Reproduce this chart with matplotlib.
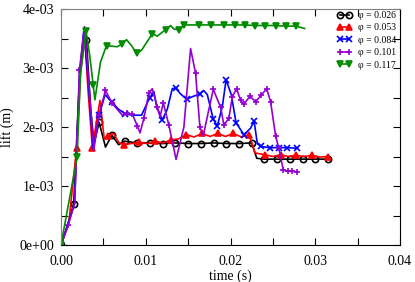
import numpy as np
import matplotlib
matplotlib.use("Agg")
import matplotlib.pyplot as plt

plt.rcParams['font.family'] = ['Liberation Serif', 'DejaVu Serif']

# 揚力の時系列 (値は 1e-3 m 単位)
labels = ['φ = 0.026', 'φ = 0.053', 'φ = 0.084', 'φ = 0.101', 'φ = 0.117']

t_026 = [0, 0.00075, 0.0015, 0.0022, 0.0027, 0.003, 0.0035, 0.0039, 0.0045, 0.00525,
         0.006, 0.0068, 0.0075, 0.009, 0.0105, 0.012, 0.0135, 0.015, 0.0165, 0.018,
         0.0195, 0.021, 0.0225, 0.0231, 0.024, 0.0255, 0.027, 0.0285, 0.030, 0.0315]
v_026 = [0, 0.33, 0.70, 2.85, 3.58, 3.48, 2.3, 1.72, 2.08, 1.66,
         1.86, 1.70, 1.76, 1.73, 1.73, 1.72, 1.73, 1.72, 1.72, 1.73,
         1.72, 1.72, 1.73, 1.47, 1.455, 1.455, 1.455, 1.455, 1.455, 1.455]
mk_026 = [0, 2, 5, 8, 10, 12, 13, 14, 15, 16, 17, 18, 19, 20, 21, 22, 24, 25, 26, 27, 28, 29]

t_053 = [0, 0.0009, 0.00185, 0.0023, 0.0028, 0.0032, 0.0037, 0.0042, 0.0046, 0.0051,
         0.00555, 0.0062, 0.0068, 0.0074, 0.0083, 0.00925, 0.0102, 0.0111, 0.012, 0.01295,
         0.0139, 0.0148, 0.0157, 0.01665, 0.0176, 0.0185, 0.0194, 0.02035, 0.0213, 0.0222,
         0.0229, 0.02405, 0.025, 0.0259, 0.0268, 0.02775, 0.0287, 0.0296, 0.0305, 0.03145]
v_053 = [0, 0.35, 1.65, 2.9, 3.55, 2.6, 1.65, 2.1, 2.45, 1.80,
         1.85, 1.89, 1.74, 1.70, 1.72, 1.74, 1.72, 1.76, 1.73, 1.78,
         1.80, 1.87, 1.83, 1.89, 1.84, 1.89, 1.84, 1.89, 1.83, 1.87,
         1.56, 1.53, 1.50, 1.53, 1.50, 1.52, 1.50, 1.52, 1.49, 1.50]
mk_053 = [0, 2, 6, 10, 13, 15, 17, 19, 21, 23, 25, 27, 29, 31, 33, 35, 37, 39]

t_084 = [0, 0.0008, 0.0016, 0.0022, 0.0027, 0.0032, 0.0038, 0.0045, 0.0052, 0.006,
         0.0068, 0.0076, 0.0085, 0.0095, 0.01048, 0.01096, 0.01128, 0.01195, 0.01254, 0.01313,
         0.01352, 0.01411, 0.01482, 0.01561, 0.01639, 0.01682, 0.01726, 0.01797, 0.01844, 0.01903,
         0.01948, 0.02009, 0.02066, 0.02158, 0.02237, 0.02279, 0.02316, 0.02355, 0.02465, 0.02571,
         0.02671, 0.0278]
v_084 = [0, 0.34, 0.70, 2.9, 3.65, 2.8, 1.62, 2.2, 2.55, 2.42,
         2.3, 2.22, 2.2, 2.2, 2.50, 2.60, 2.35, 2.12, 2.30, 2.65,
         2.66, 2.56, 2.47, 2.52, 2.56, 2.62, 2.55, 2.13, 2.02, 2.34,
         2.80, 2.55, 2.07, 1.87, 1.98, 2.10, 1.72, 1.67, 1.65, 1.65,
         1.65, 1.64]
mk_084 = [0, 7, 9, 11, 14, 17, 20, 22, 24, 27, 28, 30, 32, 33, 35, 37, 38, 39, 40, 41]

t_101 = [0, 0.00085, 0.0016, 0.00218, 0.00277, 0.00325, 0.00387, 0.00446, 0.00525, 0.00604,
         0.00723, 0.00782, 0.00841, 0.009, 0.00933, 0.00978, 0.01037, 0.01077, 0.01136, 0.01169,
         0.01207, 0.01273, 0.01358, 0.0145, 0.01529, 0.01588, 0.01639, 0.01679, 0.0173, 0.01797,
         0.01844, 0.01883, 0.01922, 0.01981, 0.02021, 0.02072, 0.02119, 0.02158, 0.02229, 0.02296,
         0.02364, 0.02426, 0.02473, 0.02532, 0.02571, 0.02623, 0.02678, 0.0273, 0.0278]
v_101 = [0, 0.34, 0.70, 2.97, 3.70, 2.8, 1.61, 2.2, 2.62, 2.40,
         2.20, 2.23, 2.22, 2.02, 1.90, 2.15, 2.57, 2.65, 2.34, 2.17,
         2.41, 2.03, 1.45, 2.0, 3.33, 2.91, 2.0, 1.85, 2.2, 2.64,
         2.47, 2.34, 2.03, 2.15, 2.51, 2.65, 2.45, 2.39, 2.52, 2.43,
         2.54, 2.65, 2.43, 1.85, 1.64, 1.27, 1.25, 1.25, 1.24]
mk_101 = [0, 1, 3, 7, 8, 9, 11, 12, 13, 15, 16, 18, 20, 21, 25, 26, 29, 31, 32, 33,
          34, 35, 36, 37, 38, 39, 40, 41, 42, 43, 44, 45, 46, 47, 48]

t_117 = [0, 0.0019, 0.00230, 0.00295, 0.0034, 0.0038, 0.004, 0.00466, 0.00537, 0.00664,
         0.00723, 0.00773, 0.00832, 0.00891, 0.0095, 0.01077, 0.01136, 0.01234, 0.01293, 0.01332,
         0.01391, 0.0145, 0.01627, 0.01773, 0.01922, 0.02048, 0.02166, 0.02288, 0.02406, 0.02532,
         0.02651, 0.02769, 0.02875]
v_117 = [0, 1.49, 2.9, 3.63, 3.2, 2.71, 2.46, 3.1, 3.38, 3.36,
         3.41, 3.48, 3.38, 3.25, 3.30, 3.58, 3.54, 3.65, 3.72, 3.66,
         3.65, 3.73, 3.73, 3.73, 3.73, 3.73, 3.73, 3.72, 3.72, 3.72,
         3.71, 3.71, 3.67]
mk_117 = [0, 1, 3, 5, 8, 10, 13, 15, 17, 20, 21, 22, 23, 24, 25, 26, 27, 28, 29, 30, 31]

fig = plt.figure(figsize=(4.15, 2.82), dpi=100)
ax = fig.add_axes([61/415, 37/282, 339/415, 236/282])

series = [
    (t_026, v_026, mk_026, 'black', 'o', 'none', 4.5),
    (t_053, v_053, mk_053, '#ff0000', '^', '#ff0000', 5),
    (t_084, v_084, mk_084, '#0000ff', 'x', '#0000ff', 4),
    (t_101, v_101, mk_101, '#9400d3', '+', '#9400d3', 5),
    (t_117, v_117, mk_117, '#008b00', 'v', '#008b00', 5),
]

for (t, v, mk, c, m, fc, ms), lab in zip(series, labels):
    ax.plot(t, np.array(v) * 1e-3, color=c, lw=1.2, marker=m, markevery=mk,
            mfc=fc, mec=c, ms=ms, mew=1.2, label=lab)

ax.set_xlim(0, 0.04)
ax.set_ylim(0, 0.004)
ax.set_xticks(np.arange(0, 0.0401, 0.005))
ax.set_xticklabels(['0.00', '', '0.01', '', '0.02', '', '0.03', '', '0.04'])
ax.set_yticks(np.arange(0, 0.00401, 0.0005))
ax.set_yticklabels(['0e+00', '', '1e-03', '', '2e-03', '', '3e-03', '', '4e-03'])
ax.tick_params(direction='in', top=True, right=True, length=5, width=0.8,
               labelsize=10, colors='black')
ax.tick_params(axis='x', pad=7)
ax.tick_params(axis='y', pad=5)
for s in ['left', 'top']:
    ax.spines[s].set_color('#808080')
ax.set_xlabel('time (s)', fontsize=10, labelpad=1)
ax.set_ylabel('lift (m)', fontsize=10, labelpad=4)

ax.legend(loc='upper right', bbox_to_anchor=(1.008, 1.02), frameon=False, fontsize=7,
          numpoints=2, handlelength=1.5, handletextpad=0.6, labelspacing=0.35,
          borderaxespad=0.3)

fig.savefig('out.png', dpi=100)
